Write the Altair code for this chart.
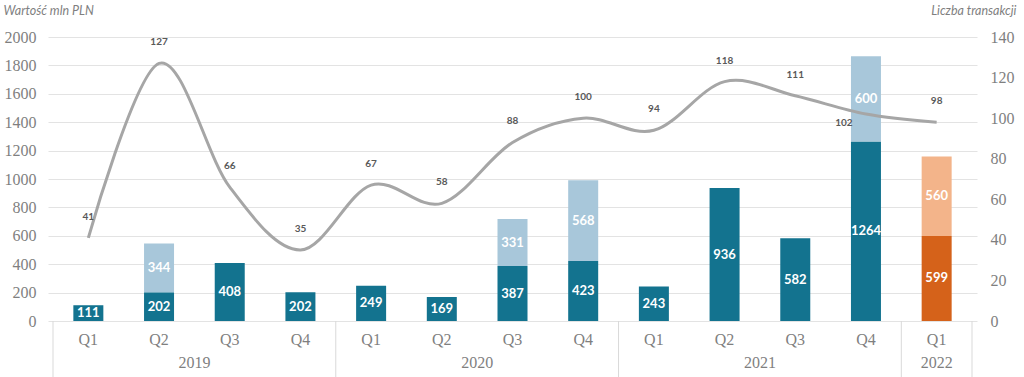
import altair as alt
import pandas as pd

quarters = ["Q1", "Q2", "Q3", "Q4", "Q1", "Q2", "Q3", "Q4", "Q1", "Q2", "Q3", "Q4", "Q1"]
years = ["2019"] * 4 + ["2020"] * 4 + ["2021"] * 4 + ["2022"]
base_values = [111, 202, 408, 202, 249, 169, 387, 423, 243, 936, 582, 1264, 599]
extra_values = [0, 344, 0, 0, 0, 0, 331, 568, 0, 0, 0, 600, 560]
transactions = [41, 127, 66, 35, 67, 58, 88, 100, 94, 118, 111, 102, 98]
year_labels = ["2019", "2020", "2021", "2022"]

SERIF = "Liberation Serif"

idx = list(range(len(quarters)))
rows = []
for i in idx:
    b = base_values[i]
    e = extra_values[i]
    is22 = years[i] == "2022"
    rows.append(dict(i=i, y0=0, y1=b, mid=b / 2, label=str(b), kind="base22" if is22 else "base"))
    if e:
        rows.append(dict(i=i, y0=b, y1=b + e, mid=b + e / 2, label=str(e), kind="extra22" if is22 else "extra"))
bars_df = pd.DataFrame(rows)
line_df = pd.DataFrame(dict(i=idx, n=transactions))
q_df = pd.DataFrame(dict(i=idx, q=quarters))
yr_pos = [sum(j for j in idx if years[j] == y) / years.count(y) for y in year_labels]
yr_df = pd.DataFrame(dict(year=year_labels, pos=yr_pos))
bounds = [-0.5] + [j + 0.5 for j in idx[:-1] if years[j] != years[j + 1]] + [idx[-1] + 0.5]
sep_df = pd.DataFrame(dict(pos=bounds))

xs = alt.Scale(domain=[-0.5, 12.5], nice=False, zero=False)
X = alt.X("i:Q", scale=xs, axis=None)
left_scale = alt.Scale(domain=[0, 2000], nice=False)
right_scale = alt.Scale(domain=[0, 140], nice=False)

left_axis = alt.Axis(values=list(range(0, 2001, 200)), format="d", labelOverlap=False,
                     title="Wartość mln PLN", labelFont=SERIF,
                     titleAngle=0, titleAlign="left", titleBaseline="middle",
                     titleX=-45, titleY=-27, labelPadding=12)
right_axis = alt.Axis(orient="right", values=list(range(0, 141, 20)), format="d", grid=False,
                      labelOverlap=False, labelFont=SERIF,
                      title="Liczba transakcji", titleAngle=0, titleAlign="right",
                      titleBaseline="middle", titleX=39, titleY=-27, labelPadding=13)

bars = alt.Chart(bars_df).mark_bar(size=30).encode(
    x=X,
    y=alt.Y("y0:Q", scale=left_scale, axis=left_axis),
    y2="y1:Q",
    color=alt.Color("kind:N", scale=alt.Scale(domain=["base", "extra", "base22", "extra22"],
                                              range=["#13738F", "#A8C7DA", "#D5621A", "#F3B48A"]),
                    legend=None),
)
bar_text = alt.Chart(bars_df).mark_text(color="white", font="Lato", fontWeight="bold", fontSize=13).encode(
    x=X, y=alt.Y("mid:Q", scale=left_scale, axis=left_axis), text="label:N"
)
qtext = alt.Chart(q_df).mark_text(font=SERIF, fontSize=16, color="#7f7f7f").encode(
    x=X, y=alt.value(303), text="q:N"
)
ytext = alt.Chart(yr_df).mark_text(font=SERIF, fontSize=16, color="#7f7f7f").encode(
    x=alt.X("pos:Q", scale=xs, axis=None),
    y=alt.value(326), text="year:N"
)
seps = alt.Chart(sep_df).mark_rule(color="#d9d9d9", strokeWidth=1).encode(
    x=alt.X("pos:Q", scale=xs, axis=None),
    y=alt.value(284), y2=alt.value(340)
)

Y2 = alt.Y("n:Q", scale=right_scale, axis=right_axis)
line = alt.Chart(line_df).mark_line(interpolate="cardinal", color="#A6A6A6", strokeWidth=3).encode(x=X, y=Y2)
line_text = alt.Chart(line_df).transform_filter("datum.i != 11").mark_text(
    dy=-21, font="Lato", fontWeight="bold", fontSize=10, color="#595959"
).encode(x=X, y=Y2, text="n:Q")
line_text_b = alt.Chart(line_df).transform_filter("datum.i == 11").mark_text(
    dx=-22, dy=9, font="Lato", fontWeight="bold", fontSize=10, color="#595959"
).encode(x=X, y=Y2, text="n:Q")

left = alt.layer(bars, bar_text, qtext, ytext, seps)
right = alt.layer(line, line_text, line_text_b)

chart = alt.layer(left, right).resolve_scale(y="independent").properties(
    width=929, height=284,
    autosize=alt.AutoSizeParams(type="none"),
    padding={"left": 48, "top": 37, "right": 47, "bottom": 56},
).configure_view(stroke=None).configure_axis(
    labelFont=SERIF, labelFontSize=16, labelColor="#7f7f7f",
    domain=False, ticks=False, gridColor="#e3e3e3",
    titleFont="Lato", titleFontStyle="italic", titleFontWeight="normal",
    titleFontSize=12.5, titleColor="#7f7f7f",
)

chart.save("out.html", embed_options={"renderer": "svg", "actions": False})
